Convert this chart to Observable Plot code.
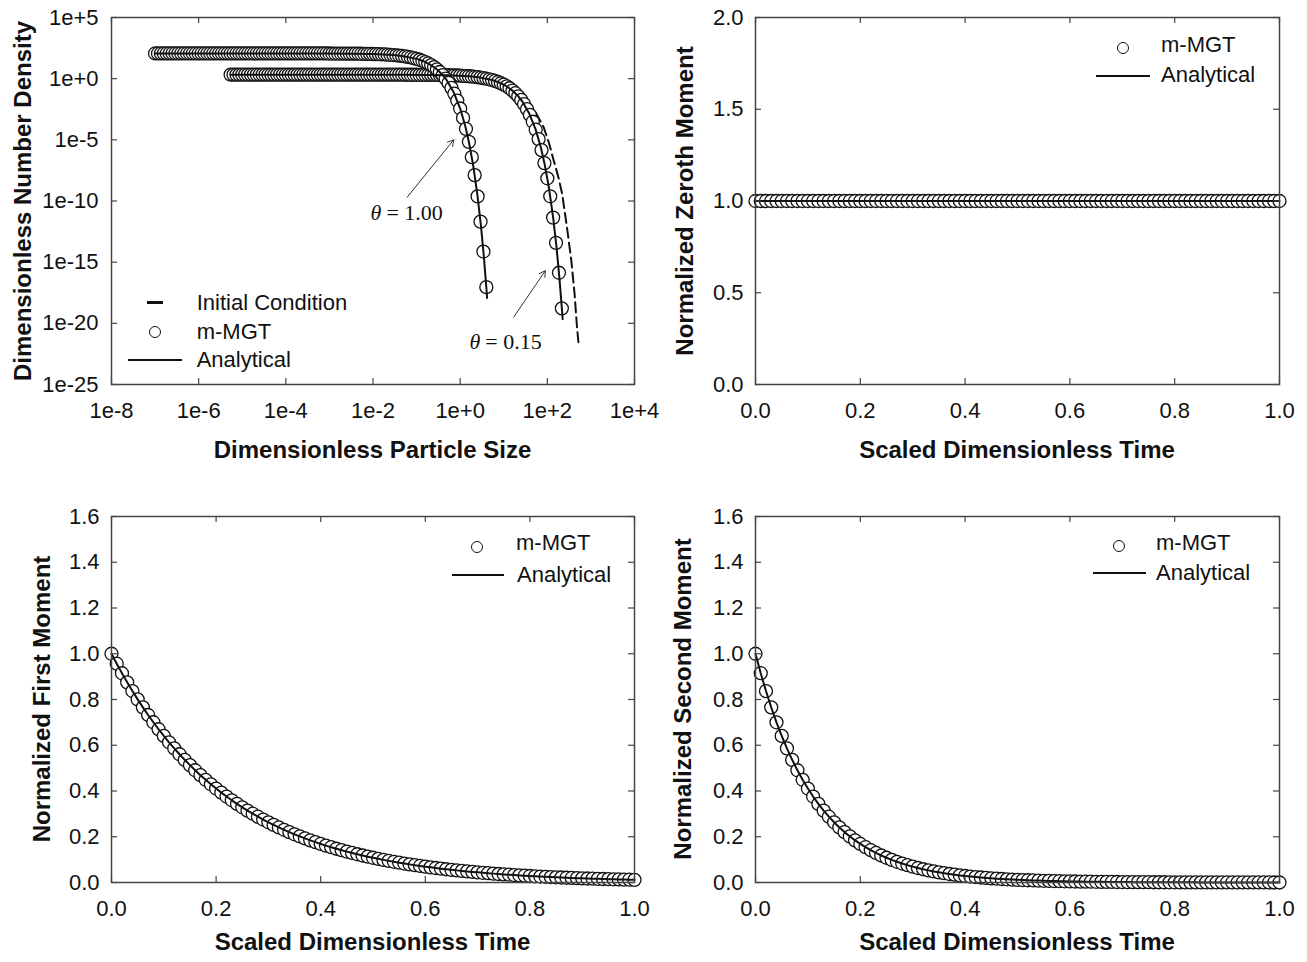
<!DOCTYPE html>
<html><head><meta charset="utf-8">
<script src="https://cdn.jsdelivr.net/npm/d3@7"></script>
<script src="https://cdn.jsdelivr.net/npm/@observablehq/plot@0.6"></script>
<style>
html,body{margin:0;padding:0;background:#fff;}
#root{position:relative;width:1307px;height:962px;overflow:hidden;background:#fff;font-family:"Liberation Sans",Arial,sans-serif;color:#111;}
.panel{position:absolute;}
.panel svg{display:block;max-width:none;}
.tx{position:absolute;white-space:nowrap;line-height:1;color:#111;}
.title{font-weight:bold;font-size:24px;}
.leg{font-size:22px;}
.legc{position:absolute;border:1.3px solid #111;border-radius:50%;background:#fff;box-sizing:border-box;}
.legl{position:absolute;background:#111;}
</style></head>
<body><div id="root"></div>
<script>
// ---------- Panel (a): number density vs particle size ----------
const sizeTheta100 = [
1e-7,1.166e-7,1.359e-7,1.585e-7,1.848e-7,2.154e-7,2.512e-7,2.929e-7,3.415e-7,3.981e-7,4.642e-7,5.412e-7,6.31e-7,7.356e-7,8.577e-7,
1e-6,1.166e-6,1.359e-6,1.585e-6,1.848e-6,2.154e-6,2.512e-6,2.929e-6,3.415e-6,3.981e-6,4.642e-6,5.412e-6,6.31e-6,7.356e-6,8.577e-6,
1e-5,1.166e-5,1.359e-5,1.585e-5,1.848e-5,2.154e-5,2.512e-5,2.929e-5,3.415e-5,3.981e-5,4.642e-5,5.412e-5,6.31e-5,7.356e-5,8.577e-5,
1e-4,1.166e-4,1.359e-4,1.585e-4,1.848e-4,2.154e-4,2.512e-4,2.929e-4,3.415e-4,3.981e-4,4.642e-4,5.412e-4,6.31e-4,7.356e-4,8.577e-4,
1e-3,1.166e-3,1.359e-3,1.585e-3,1.848e-3,2.154e-3,2.512e-3,2.929e-3,3.415e-3,3.981e-3,4.642e-3,5.412e-3,6.31e-3,7.356e-3,8.577e-3,
0.01,0.01166,0.01359,0.01585,0.01848,0.02154,0.02512,0.02929,0.03415,0.03981,0.04642,0.05412,0.0631,0.07356,0.08577,
0.1,0.1166,0.1359,0.1585,0.1848,0.2154,0.2512,0.2929,0.3415,0.3981,0.4642,0.5412,0.631,0.7356,0.8577,
1,1.166,1.359,1.585,1.848,2.154,2.512,2.929,3.415,3.981];
const densTheta100 = [
115,115,115,115,115,115,115,115,115,115,115,115,115,115,115,
115,115,115,115,115,115,115,115,115,115,115,115,115,115,115,
115,115,115,115,115,115,115,115,115,115,115,115,115,115,115,
115,115,115,115,115,115,115,115,115,115,115,115,115,115,115,
113.6,113.5,113.2,113.0,112.7,112.3,111.9,111.5,110.9,110.3,109.5,108.7,107.7,106.6,105.3,
103.8,102.0,100.0,97.8,95.2,92.3,89.0,85.3,81.2,76.7,71.7,66.3,60.5,54.4,48.1,
41.6,35.1,28.9,22.9,17.5,12.8,8.88,5.79,3.51,1.96,0.991,0.446,0.175,0.0588,0.0163,
3.63e-3,6.22e-4,7.87e-5,6.84e-6,3.87e-7,1.31e-8,2.38e-10,2.06e-12,7.38e-15,9.09e-18];
const sizeTheta015 = [
5.412e-6,6.31e-6,7.356e-6,8.577e-6,
1e-5,1.166e-5,1.359e-5,1.585e-5,1.848e-5,2.154e-5,2.512e-5,2.929e-5,3.415e-5,3.981e-5,4.642e-5,5.412e-5,6.31e-5,7.356e-5,8.577e-5,
1e-4,1.166e-4,1.359e-4,1.585e-4,1.848e-4,2.154e-4,2.512e-4,2.929e-4,3.415e-4,3.981e-4,4.642e-4,5.412e-4,6.31e-4,7.356e-4,8.577e-4,
1e-3,1.166e-3,1.359e-3,1.585e-3,1.848e-3,2.154e-3,2.512e-3,2.929e-3,3.415e-3,3.981e-3,4.642e-3,5.412e-3,6.31e-3,7.356e-3,8.577e-3,
0.01,0.01166,0.01359,0.01585,0.01848,0.02154,0.02512,0.02929,0.03415,0.03981,0.04642,0.05412,0.0631,0.07356,0.08577,
0.1,0.1166,0.1359,0.1585,0.1848,0.2154,0.2512,0.2929,0.3415,0.3981,0.4642,0.5412,0.631,0.7356,0.8577,
1,1.166,1.359,1.585,1.848,2.154,2.512,2.929,3.415,3.981,4.642,5.412,6.31,7.356,8.577,
10,11.66,13.59,15.85,18.48,21.54,25.12,29.29,34.15,39.81,46.42,54.12,63.1,73.56,85.77,
100,116.6,135.9,158.5,184.8,215.4];
const densTheta015 = [
2.12,2.12,2.12,2.12,2.12,2.12,2.12,2.12,2.12,2.12,2.12,2.12,2.12,2.12,2.12,
2.12,2.12,2.12,2.12,2.12,2.12,2.12,2.12,2.12,2.12,2.12,2.12,2.12,2.12,2.12,
2.12,2.12,2.12,2.12,2.12,2.12,2.12,2.12,2.12,2.12,2.12,2.12,2.12,2.12,2.12,
2.12,2.12,2.12,2.12,2.12,2.12,2.12,2.12,2.12,2.12,2.12,2.12,2.12,2.12,2.12,
2.099,2.097,2.092,2.088,2.082,2.075,2.068,2.060,2.049,2.038,2.023,2.008,1.990,1.970,1.946,
1.918,1.885,1.848,1.807,1.759,1.705,1.644,1.576,1.500,1.417,1.325,1.225,1.118,1.005,0.889,
0.769,0.649,0.534,0.423,0.323,0.237,0.164,0.107,0.0649,0.0362,0.0183,0.00824,0.00323,0.00109,3.01e-4,
6.71e-5,1.15e-5,1.45e-6,1.26e-7,7.15e-9,2.42e-10,4.40e-12,3.81e-14,1.36e-16,1.68e-19];
const analyticSize100 = [1e-7,1e-5,1e-3,1e-2,0.03,0.05,0.1,0.15,0.2,0.3,0.4,0.5,0.7,1,1.3,1.6,2,2.5,3,3.5,4,4.15];
const analyticDens100 = [114.8,114.8,113.6,103.8,84.7,69.2,41.6,25.0,15.0,5.38,1.92,0.684,0.0853,3.63e-3,1.48e-4,5.81e-6,7.24e-8,2.72e-10,9.12e-13,2.72e-15,7.24e-18,1.20e-18];
const analyticSize015 = [5.412e-6,5.412e-4,0.05412,0.5412,1.624,2.706,5.412,8.118,10.82,16.24,21.65,27.06,37.88,54.12,70.36,86.59,108.2,135.3,162.4,189.4,216.5,224.6];
const analyticDens015 = [2.121,2.121,2.099,1.918,1.565,1.279,0.769,0.462,0.277,0.0994,0.0355,0.01264,1.576e-3,6.71e-5,2.73e-6,1.07e-7,1.34e-9,5.03e-12,1.69e-14,5.03e-17,1.34e-19,2.22e-20];
const initialSize = [6e-6,1e-2,1,5,10,20,34.3,50,82.6,110,140,180,219,282,355,422,479,525];
const initialDens = [0.89,0.89,0.794,0.5,0.316,0.1,0.0162,2.82e-3,1.07e-4,5.0e-6,2.04e-7,8.5e-9,3.8e-10,7.1e-13,1.35e-15,2.5e-18,5.0e-21,1.6e-22];
const thetaLabels = ["1.00","0.15"];
const thetaLabelX = [0.0156,2.9];
const thetaLabelY = [1.15e-11,3.2e-22];
const arrowFromX = [0.0605,16.9];
const arrowFromY = [2.0e-10,3.2e-20];
const arrowToX = [0.71,90];
const arrowToY = [1e-5,2.0e-16];
const sizeTicks = [1e-8,1e-6,1e-4,1e-2,1,1e2,1e4];
const sizeTickLabels = ["1e-8","1e-6","1e-4","1e-2","1e+0","1e+2","1e+4"];
const densTicks = [1e5,1,1e-5,1e-10,1e-15,1e-20,1e-25];
const densTickLabels = ["1e+5","1e+0","1e-5","1e-10","1e-15","1e-20","1e-25"];

// ---------- Moment panels ----------
const time = [0,0.01,0.02,0.03,0.04,0.05,0.06,0.07,0.08,0.09,
0.1,0.11,0.12,0.13,0.14,0.15,0.16,0.17,0.18,0.19,
0.2,0.21,0.22,0.23,0.24,0.25,0.26,0.27,0.28,0.29,
0.3,0.31,0.32,0.33,0.34,0.35,0.36,0.37,0.38,0.39,
0.4,0.41,0.42,0.43,0.44,0.45,0.46,0.47,0.48,0.49,
0.5,0.51,0.52,0.53,0.54,0.55,0.56,0.57,0.58,0.59,
0.6,0.61,0.62,0.63,0.64,0.65,0.66,0.67,0.68,0.69,
0.7,0.71,0.72,0.73,0.74,0.75,0.76,0.77,0.78,0.79,
0.8,0.81,0.82,0.83,0.84,0.85,0.86,0.87,0.88,0.89,
0.9,0.91,0.92,0.93,0.94,0.95,0.96,0.97,0.98,0.99,1];
const zerothMoment = [1,1,1,1,1,1,1,1,1,1,
1,1,1,1,1,1,1,1,1,1,
1,1,1,1,1,1,1,1,1,1,
1,1,1,1,1,1,1,1,1,1,
1,1,1,1,1,1,1,1,1,1,
1,1,1,1,1,1,1,1,1,1,
1,1,1,1,1,1,1,1,1,1,
1,1,1,1,1,1,1,1,1,1,
1,1,1,1,1,1,1,1,1,1,
1,1,1,1,1,1,1,1,1,1,1];
const firstMoment = [1,0.9565,0.9148,0.875,0.8369,0.8005,0.7657,0.7323,0.7005,0.67,
0.6408,0.6129,0.5863,0.5607,0.5363,0.513,0.4907,0.4693,0.4489,0.4293,
0.4107,0.3928,0.3757,0.3593,0.3437,0.3287,0.3144,0.3008,0.2877,0.2752,
0.2632,0.2517,0.2407,0.2303,0.2203,0.2107,0.2015,0.1927,0.1843,0.1763,
0.1686,0.1613,0.1543,0.1476,0.1411,0.135,0.1291,0.1235,0.1181,0.113,
0.1081,0.1034,0.0989,0.0946,0.0905,0.0865,0.0828,0.0792,0.0757,0.0724,
0.0693,0.0662,0.0634,0.0606,0.058,0.0554,0.053,0.0507,0.0485,0.0464,
0.0444,0.0424,0.0406,0.0388,0.0371,0.0355,0.034,0.0325,0.0311,0.0297,
0.0284,0.0272,0.026,0.0249,0.0238,0.0228,0.0218,0.0208,0.0199,0.019,
0.0182,0.0174,0.0167,0.016,0.0153,0.0146,0.014,0.0134,0.0128,0.0122,0.0117];
const secondMoment = [1,0.9149,0.8369,0.7656,0.7004,0.6408,0.5863,0.5363,0.4907,0.4489,
0.4107,0.3757,0.3437,0.3144,0.2877,0.2632,0.2408,0.2203,0.2015,0.1843,
0.1686,0.1543,0.1411,0.1291,0.1181,0.1081,0.0989,0.0905,0.0828,0.0757,
0.0693,0.0634,0.058,0.053,0.0485,0.0444,0.0406,0.0371,0.034,0.0311,
0.0284,0.026,0.0238,0.0218,0.0199,0.0182,0.0167,0.0153,0.014,0.0128,
0.0117,0.0107,0.0098,0.0089,0.0082,0.0075,0.0069,0.0063,0.0057,0.0052,
0.0048,0.0044,0.004,0.0037,0.0034,0.0031,0.0028,0.0026,0.0024,0.0022,
0.002,0.0018,0.0016,0.0015,0.0014,0.0013,0.0012,0.0011,0.001,0.0009,
0.0008,0.0007,0.0007,0.0006,0.0006,0.0005,0.0005,0.0004,0.0004,0.0004,
0.0003,0.0003,0.0003,0.0003,0.0002,0.0002,0.0002,0.0002,0.0002,0.0001,0.0001];
const timeTicks = [0,0.2,0.4,0.6,0.8,1];
const timeTickLabels = ["0.0","0.2","0.4","0.6","0.8","1.0"];
const zerothTicks = [0,0.5,1,1.5,2];
const zerothTickLabels = ["0.0","0.5","1.0","1.5","2.0"];
const momentTicks = [0,0.2,0.4,0.6,0.8,1,1.2,1.4,1.6];
const momentTickLabels = ["0.0","0.2","0.4","0.6","0.8","1.0","1.2","1.4","1.6"];

// ---------- drawing ----------
const FONT = "'Liberation Sans', Arial, sans-serif";
const INK = "#111";
const FRAME = "#444";
const TICK = 6;
const R = 6.5;
const DOT_W = 1.3;
const root = document.getElementById("root");
const svgStyle = {background: "transparent", overflow: "visible", fontFamily: FONT, fontSize: "22px", color: INK};

function ticksAndFrame(xT, yT, innerW, innerH) {
  return [
    Plot.tickX(xT, {x: d => d, insetTop: innerH - TICK, stroke: FRAME, strokeWidth: 1.2}),
    Plot.tickX(xT, {x: d => d, insetBottom: innerH - TICK, stroke: FRAME, strokeWidth: 1.2}),
    Plot.tickY(yT, {y: d => d, insetRight: innerW - TICK, stroke: FRAME, strokeWidth: 1.2}),
    Plot.tickY(yT, {y: d => d, insetLeft: innerW - TICK, stroke: FRAME, strokeWidth: 1.2}),
    Plot.frame({stroke: FRAME, strokeWidth: 1.5})
  ];
}
function axes(xT, xL, yT, yL, xPad, yPad) {
  return [
    Plot.axisX({ticks: xT, tickSize: 0, tickPadding: xPad, tickFormat: d => xL[xT.indexOf(d)], label: null, fontSize: 22, fill: INK}),
    Plot.axisY({ticks: yT, tickSize: 0, tickPadding: yPad, tickFormat: d => yL[yT.indexOf(d)], label: null, fontSize: 22, fill: INK})
  ];
}
function mount(svg, left, top, width) {
  const d = document.createElement("div");
  d.className = "panel";
  d.style.left = left + "px"; d.style.top = top + "px"; d.style.width = width + "px";
  d.appendChild(svg);
  root.appendChild(d);
}
function text(cls, str, x, y, rotate) {
  const s = document.createElement("div");
  s.className = "tx " + cls;
  s.textContent = str;
  s.style.left = x + "px"; s.style.top = y + "px";
  s.style.transform = cls === "title" ? (rotate ? "translate(-50%,-50%) rotate(-90deg)" : "translate(-50%,-50%)") : "translateY(-50%)";
  root.appendChild(s);
}
function legCircle(cx, cy, r) {
  const c = document.createElement("div");
  c.className = "legc";
  c.style.left = (cx - r) + "px"; c.style.top = (cy - r) + "px";
  c.style.width = (2 * r) + "px"; c.style.height = (2 * r) + "px";
  root.appendChild(c);
}
function legLine(x1, x2, y, w) {
  const l = document.createElement("div");
  l.className = "legl";
  l.style.left = x1 + "px"; l.style.top = (y - w / 2) + "px";
  l.style.width = (x2 - x1) + "px"; l.style.height = w + "px";
  root.appendChild(l);
}

// Panel (a)
const t100 = sizeTheta100.map((x, i) => ({x, y: densTheta100[i]}));
const t015 = sizeTheta015.map((x, i) => ({x, y: densTheta015[i]}));
const a100 = analyticSize100.map((x, i) => ({x, y: analyticDens100[i]}));
const a015 = analyticSize015.map((x, i) => ({x, y: analyticDens015[i]}));
const init = initialSize.map((x, i) => ({x, y: initialDens[i]}));
const labs = thetaLabels.map((v, i) => ({v, x: thetaLabelX[i], y: thetaLabelY[i]}));
const arrs = arrowFromX.map((x1, i) => ({x1, y1: arrowFromY[i], x2: arrowToX[i], y2: arrowToY[i]}));

const plotA = Plot.plot({
  width: 653, height: 480, marginLeft: 111, marginRight: 19, marginTop: 17, marginBottom: 96,
  style: svgStyle,
  x: {type: "log", domain: [1e-8, 1e4]},
  y: {type: "log", domain: [1e-25, 1e5]},
  marks: [
    Plot.line(init, {x: "x", y: "y", stroke: INK, strokeWidth: 2, strokeDasharray: "10,5"}),
    Plot.dot(t015, {x: "x", y: "y", r: R, fill: "white", stroke: INK, strokeWidth: DOT_W}),
    Plot.dot(t100, {x: "x", y: "y", r: R, fill: "white", stroke: INK, strokeWidth: DOT_W}),
    Plot.line(a015, {x: "x", y: "y", stroke: INK, strokeWidth: 2}),
    Plot.line(a100, {x: "x", y: "y", stroke: INK, strokeWidth: 2}),
    Plot.arrow(arrs, {x1: "x1", y1: "y1", x2: "x2", y2: "y2", stroke: "#333", strokeWidth: 1, headLength: 10}),
    Plot.text(labs, {x: "x", y: "y", text: () => "θ", fontStyle: "italic", fontFamily: "'Liberation Serif', 'Times New Roman', serif", fontSize: 22, textAnchor: "end", fill: INK}),
    Plot.text(labs, {x: "x", y: "y", text: d => "= " + d.v, fontFamily: "'Liberation Serif', 'Times New Roman', serif", fontSize: 22, textAnchor: "start", dx: 5, fill: INK}),
    ...ticksAndFrame(sizeTicks, densTicks, 523, 367),
    ...axes(sizeTicks, sizeTickLabels, densTicks, densTickLabels, 18, 13)
  ]
});
mount(plotA, 0, 0, 653);

function momentPlot(values, yDomain, yT, yL, mT, mB, h) {
  const data = time.map((t, i) => ({t, v: values[i]}));
  return Plot.plot({
    width: 654, height: h, marginLeft: 102, marginRight: 28, marginTop: mT, marginBottom: mB,
    style: svgStyle,
    x: {domain: [0, 1]},
    y: {domain: yDomain},
    marks: [
      Plot.dot(data, {x: "t", y: "v", r: R, fill: "white", stroke: INK, strokeWidth: DOT_W}),
      Plot.line(data, {x: "t", y: "v", stroke: INK, strokeWidth: 2}),
      ...ticksAndFrame(timeTicks, yT, 524, h - mT - mB),
      ...axes(timeTicks, timeTickLabels, yT, yL, 18, 12)
    ]
  });
}
mount(momentPlot(zerothMoment, [0, 2], zerothTicks, zerothTickLabels, 17, 96, 480), 653, 0, 654);

function momentPlotLeft(values) {
  const data = time.map((t, i) => ({t, v: values[i]}));
  return Plot.plot({
    width: 653, height: 482, marginLeft: 111, marginRight: 19, marginTop: 36, marginBottom: 80,
    style: svgStyle,
    x: {domain: [0, 1]},
    y: {domain: [0, 1.6]},
    marks: [
      Plot.dot(data, {x: "t", y: "v", r: R, fill: "white", stroke: INK, strokeWidth: DOT_W}),
      Plot.line(data, {x: "t", y: "v", stroke: INK, strokeWidth: 2}),
      ...ticksAndFrame(timeTicks, momentTicks, 523, 366),
      ...axes(timeTicks, timeTickLabels, momentTicks, momentTickLabels, 18, 12)
    ]
  });
}
mount(momentPlotLeft(firstMoment), 0, 480, 653);
mount(momentPlot(secondMoment, [0, 1.6], momentTicks, momentTickLabels, 36, 80, 482), 653, 480, 654);

// Axis titles
text("title", "Dimensionless Particle Size", 372.5, 450);
text("title", "Dimensionless Number Density", 23, 200.5, true);
text("title", "Scaled Dimensionless Time", 1017, 450);
text("title", "Normalized Zeroth Moment", 684.5, 200.5, true);
text("title", "Scaled Dimensionless Time", 372.5, 942);
text("title", "Normalized First Moment", 42, 699, true);
text("title", "Scaled Dimensionless Time", 1017, 942);
text("title", "Normalized Second Moment", 682.5, 699, true);

// Legends
legLine(146.7, 163.3, 302.7, 3.5);
legCircle(155, 331.7, 6);
legLine(128.3, 181.7, 360, 1.6);
text("leg", "Initial Condition", 196.7, 302.7);
text("leg", "m-MGT", 196.7, 331.7);
text("leg", "Analytical", 196.7, 360);

legCircle(1123, 48, 6);
text("leg", "m-MGT", 1161, 45);
legLine(1096, 1150, 76, 2.6);
text("leg", "Analytical", 1161, 75);

legCircle(477, 547, 6);
text("leg", "m-MGT", 516, 543);
legLine(452, 504, 575, 2.2);
text("leg", "Analytical", 517, 575);

legCircle(1119, 546, 6);
text("leg", "m-MGT", 1156, 543);
legLine(1093, 1146, 573, 2.6);
text("leg", "Analytical", 1156, 573);
</script></body></html>
